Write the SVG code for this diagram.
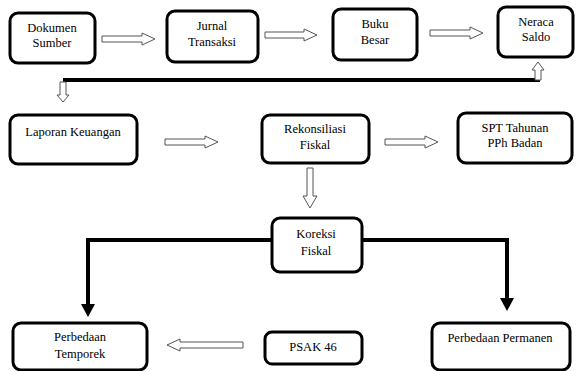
<svg xmlns="http://www.w3.org/2000/svg" width="577" height="371" viewBox="0 0 577 371">
<style>
.box{fill:#fff;stroke:#000;stroke-width:3}
.ha{fill:#fff;stroke:#555;stroke-width:1}
.thick{fill:none;stroke:#000;stroke-width:4}
</style>
<rect width="577" height="371" fill="#fff"/>
<g id="connectors">
<path class="thick" d="M63,80 H540"/>
<path class="thick" d="M272,240 H88 V305"/>
<polygon points="81,304 95,304 88,317" fill="#000"/>
<path class="thick" d="M362,240 H507 V299"/>
<polygon points="500,298 514,298 507,311" fill="#000"/>
<path class="ha" d="M102,36 H142 V33 L155,39 L142,45 V42 H102 Z"/>
<path class="ha" d="M265,32 H304 V29 L317,35 L304,41 V38 H265 Z"/>
<path class="ha" d="M430,30 H470 V27 L483,33 L470,39 V36 H430 Z"/>
<path class="ha" d="M165,139 H205 V136 L218,142 L205,148 V145 H165 Z"/>
<path class="ha" d="M385,139 H425 V136 L438,142 L425,148 V145 H385 Z"/>
<path class="ha" d="M243,342 H180 V339 L167,345 L180,351 V348 H243 Z"/>
<path class="ha" d="M307,168 V196 H303 L310,208 L317,196 H313 V168 Z"/>
<path class="ha" d="M535,80 V70 H532 L538,62 L544,70 H541 V80 Z"/>
<path class="ha" d="M60,82 V95 H57 L63,102 L69,95 H66 V82 Z"/>
</g>
<g font-family="Liberation Serif, Times New Roman, serif" font-size="12.5" text-anchor="middle" fill="#000">
<g id="n1"><rect class="box" x="10" y="13" width="85" height="50" rx="8"/><text x="52" y="32">Dokumen</text><text x="52" y="47">Sumber</text></g>
<g id="n2"><rect class="box" x="167" y="11" width="91" height="51" rx="8"/><text x="212" y="30">Jurnal</text><text x="212" y="46">Transaksi</text></g>
<g id="n3"><rect class="box" x="333" y="9" width="84" height="51" rx="8"/><text x="375" y="28">Buku</text><text x="375" y="44">Besar</text></g>
<g id="n4"><rect class="box" x="498" y="7" width="75" height="50" rx="8"/><text x="536" y="26">Neraca</text><text x="536" y="41">Saldo</text></g>
<g id="n5"><rect class="box" x="10" y="115" width="127" height="49" rx="8"/><text x="73" y="136">Laporan Keuangan</text></g>
<g id="n6"><rect class="box" x="262" y="115" width="107" height="48" rx="8"/><text x="315" y="133">Rekonsiliasi</text><text x="315" y="149">Fiskal</text></g>
<g id="n7"><rect class="box" x="458" y="113" width="114" height="50" rx="8"/><text x="515" y="132">SPT Tahunan</text><text x="515" y="147">PPh Badan</text></g>
<g id="n8"><rect class="box" x="272" y="218" width="90" height="54" rx="8"/><text x="316" y="238">Koreksi</text><text x="316" y="255">Fiskal</text></g>
<g id="n9"><rect class="box" x="13" y="323" width="134" height="47" rx="8"/><text x="80" y="341">Perbedaan</text><text x="80" y="358">Temporek</text></g>
<g id="n10"><rect class="box" x="265" y="332" width="97" height="32" rx="7"/><text x="313" y="351">PSAK 46</text></g>
<g id="n11"><rect class="box" x="432" y="323" width="138" height="47" rx="8"/><text x="500" y="342">Perbedaan Permanen</text></g>
</g>
</svg>
